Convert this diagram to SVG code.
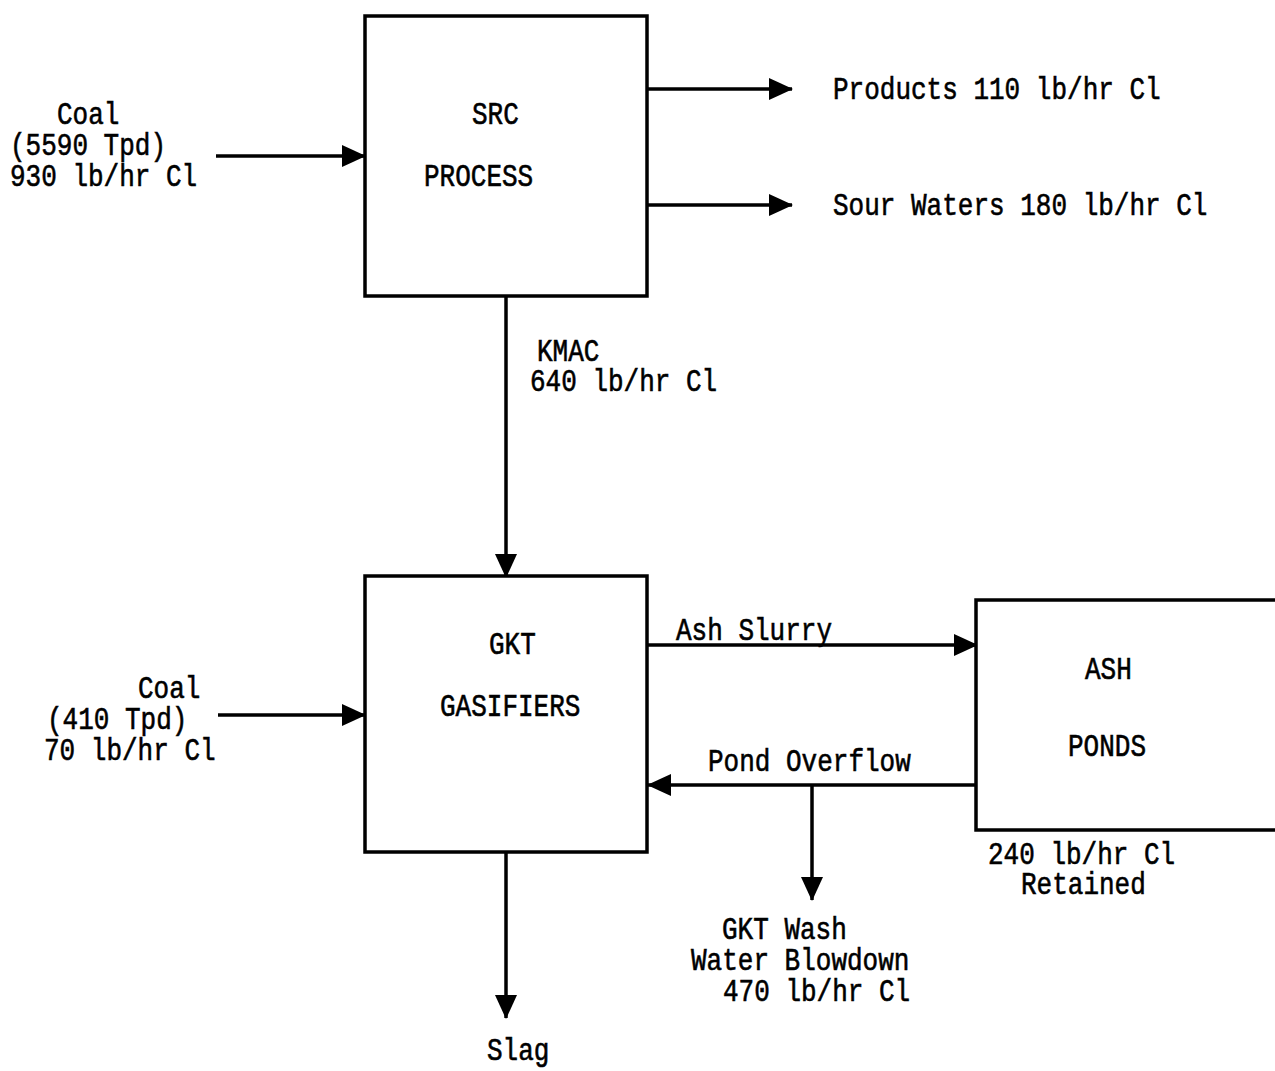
<svg xmlns="http://www.w3.org/2000/svg" width="1275" height="1071" viewBox="0 0 1275 1071">
  <style>
    .box { fill: #fff; stroke: #000; stroke-width: 3.5; }
    .flow { fill: none; stroke: #000; stroke-width: 3.5; }
    .lbl { font-family: "Liberation Mono", "DejaVu Sans Mono", monospace; font-size: 26px; fill: #000; stroke: #000; stroke-width: 0.5; }
  </style>
  <defs>
    <marker id="arrow" viewBox="0 0 24 22" markerWidth="24" markerHeight="22" refX="23" refY="11" orient="auto" markerUnits="userSpaceOnUse">
      <path d="M0,0 L24,11 L0,22 z" fill="#000"/>
    </marker>
  </defs>
  <rect width="1275" height="1071" fill="#fff"/>

  <!-- flows between units -->
  <g id="connectors">
    <line class="flow" x1="216" y1="156" x2="365" y2="156" marker-end="url(#arrow)"/>
    <line class="flow" x1="647" y1="89" x2="792" y2="89" marker-end="url(#arrow)"/>
    <line class="flow" x1="647" y1="205" x2="792" y2="205" marker-end="url(#arrow)"/>
    <line class="flow" x1="506" y1="296" x2="506" y2="577" marker-end="url(#arrow)"/>
    <line class="flow" x1="218" y1="715" x2="365" y2="715" marker-end="url(#arrow)"/>
    <line class="flow" x1="647" y1="645" x2="977" y2="645" marker-end="url(#arrow)"/>
    <line class="flow" x1="976" y1="785" x2="648" y2="785" marker-end="url(#arrow)"/>
    <line class="flow" x1="812" y1="785" x2="812" y2="900" marker-end="url(#arrow)"/>
    <line class="flow" x1="506" y1="852" x2="506" y2="1018" marker-end="url(#arrow)"/>
  </g>

  <!-- labels are stretched vertically to get the tall typewriter look -->
  <g id="src-process">
    <rect class="box" x="365" y="16" width="282" height="280"/>
    <text class="lbl" transform="matrix(1 0 0 1.22 472 124)">SRC</text>
    <text class="lbl" transform="matrix(1 0 0 1.22 424 186)">PROCESS</text>
  </g>

  <g id="gkt-gasifiers">
    <rect class="box" x="365" y="576" width="282" height="276"/>
    <text class="lbl" transform="matrix(1 0 0 1.22 489 654)">GKT</text>
    <text class="lbl" transform="matrix(1 0 0 1.22 440 716)">GASIFIERS</text>
  </g>

  <g id="ash-ponds">
    <path class="box" d="M1278,600 L976,600 L976,830 L1278,830"/>
    <text class="lbl" transform="matrix(1 0 0 1.22 1085 679)">ASH</text>
    <text class="lbl" transform="matrix(1 0 0 1.22 1068 756)">PONDS</text>
  </g>

  <g id="stream-labels">
    <text class="lbl" transform="matrix(1 0 0 1.22 57 124)">Coal</text>
    <text class="lbl" transform="matrix(1 0 0 1.22 10 155)">(5590 Tpd)</text>
    <text class="lbl" transform="matrix(1 0 0 1.22 10 186)">930 lb/hr Cl</text>

    <text class="lbl" transform="matrix(1 0 0 1.22 833 99)">Products 110 lb/hr Cl</text>
    <text class="lbl" transform="matrix(1 0 0 1.22 833 215)">Sour Waters 180 lb/hr Cl</text>

    <text class="lbl" transform="matrix(1 0 0 1.22 537 361)">KMAC</text>
    <text class="lbl" transform="matrix(1 0 0 1.22 530 391)">640 lb/hr Cl</text>

    <text class="lbl" transform="matrix(1 0 0 1.22 138 698)">Coal</text>
    <text class="lbl" transform="matrix(1 0 0 1.22 47 729)">(410 Tpd)</text>
    <text class="lbl" transform="matrix(1 0 0 1.22 44 760)">70 lb/hr Cl</text>

    <text class="lbl" transform="matrix(1 0 0 1.22 676 640)">Ash Slurry</text>
    <text class="lbl" transform="matrix(1 0 0 1.22 708 771)">Pond Overflow</text>

    <text class="lbl" transform="matrix(1 0 0 1.22 988 864)">240 lb/hr Cl</text>
    <text class="lbl" transform="matrix(1 0 0 1.22 1021 894)">Retained</text>

    <text class="lbl" transform="matrix(1 0 0 1.22 722 939)">GKT Wash</text>
    <text class="lbl" transform="matrix(1 0 0 1.22 691 970)">Water Blowdown</text>
    <text class="lbl" transform="matrix(1 0 0 1.22 723 1001)">470 lb/hr Cl</text>

    <text class="lbl" transform="matrix(1 0 0 1.22 487 1060)">Slag</text>
  </g>
</svg>
